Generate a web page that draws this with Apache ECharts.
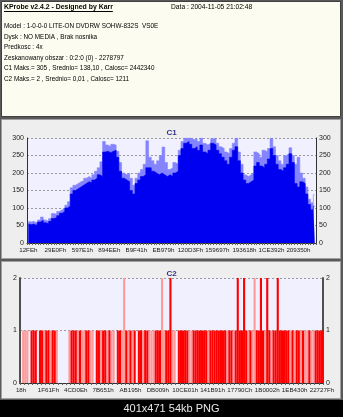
<!DOCTYPE html>
<html><head><meta charset="utf-8">
<script src="https://cdn.jsdelivr.net/npm/echarts@6/dist/echarts.min.js"></script>
<style>html,body{margin:0;padding:0;background:#000;}#c{width:343px;height:417px;}</style>
</head><body><div id="c"></div>
<script>
const headerTitle = 'KProbe v2.4.2 - Designed by Karr';
const headerDate = 'Data : 2004-11-05 21:02:48';
const infoLines = [
  'Model : 1-0-0-0 LITE-ON DVDRW SOHW-832S  VS0E',
  'Dysk : NO MEDIA , Brak nosnika',
  'Predkosc : 4x',
  'Zeskanowany obszar : 0:2:0 (0) - 2278797',
  'C1 Maks.= 305 , Srednio= 138,10 , Calosc= 2442340',
  'C2 Maks.= 2 , Srednio= 0,01 , Calosc= 1211'
];
const caption = '401x471 54kb PNG';
const c1Ticks = ['12FEh','29E0Fh','597E1h','894EEh','B9F41h','EB979h','120D3Fh','159697h','193618h','1CE392h','209350h'];
const c2Ticks = ['18h','1F61Fh','4CD0Eh','7B651h','AB195h','DB009h','10CE01h','141B91h','17790Ch','1B0002h','1EB430h','22727Fh'];
// C1 errors per sample: highest spikes and bulk level
const c1Peak = [62,60,62,58,66,74,66,62,70,84, 82,90,95,98,108,118,158,165,170,175, 178,185,190,185,195,205,215,232,290,280,
  275,282,280,262,230,200,195,200,185,165, 185,200,210,225,292,245,235,225,235,250, 274,230,210,215,230,225,265,290,300,300,
  300,295,298,290,300,285,280,285,298,300, 285,275,270,260,255,270,285,300,260,225, 195,190,195,200,260,255,245,265,260,270,
  300,275,250,235,225,250,255,272,250,225, 245,200,185,160,125,115,138];
const c1Body = [55,52,54,50,60,65,58,55,62,70, 72,78,85,90,100,105,140,150,155,160, 165,170,175,172,180,185,195,190,260,262,
  258,262,265,245,205,185,180,175,150,140, 170,180,190,195,215,215,205,200,195,200, 195,190,195,190,200,205,250,270,285,290,
  282,270,275,265,280,260,255,265,285,280, 265,255,245,235,225,245,265,275,235,200, 180,170,175,180,220,230,220,215,225,240,
  270,250,225,210,205,215,225,255,230,170, 160,175,170,140,110,95,105];
// C2 errors per sample (solid and faint marks)
const c2Strong = [0,0,0,0,0,1,1,1,0,1, 1,0,1,1,0,1,1,0,0,0, 0,0,0,0,1,1,1,0,1,0, 0,1,1,0,0,0,1,1,0,1,
  1,0,1,0,0,0,1,1,0,0, 1,0,1,0,1,0,1,1,0,1, 1,0,0,0,1,1,1,0,0,1, 1,2,0,0,0,1,1,1,1,1,
  0,0,1,1,1,1,1,1,1,0, 1,1,1,1,1,1,1,1,0,1, 1,0,1,2,1,1,2,1,0,1, 0,0,1,1,2,1,0,2,1,0,
  1,1,2,1,1,1,1,1,0,1, 0,1,1,0,1,0,0,1,0,0, 1,1,1,1];
const c2Faint = [0,1,1,1,0,0,0,0,0,0, 0,1,0,0,1,0,0,1,0,0, 0,0,0,1,0,0,0,1,0,1, 1,0,0,1,1,0,0,0,1,0,
  0,1,0,1,1,0,0,0,1,2, 0,1,0,1,0,0,0,0,1,0, 0,1,1,1,0,0,0,2,1,0, 0,0,1,1,0,0,0,0,0,0,
  1,1,0,0,0,0,0,0,0,1, 0,0,0,0,0,0,0,0,1,0, 0,1,0,0,0,0,0,0,1,0, 1,2,0,0,0,0,1,0,0,1,
  0,0,0,0,0,0,0,0,1,0, 1,0,0,1,0,1,1,0,1,1, 0,0,0,0];

const FONT = 'Liberation Sans';
const c1Cats = c1Body.map((_, i) => i);
const c2Cats = c2Strong.map((_, i) => i);
const c1Step = (c1Cats.length - 1 - ((c1Cats.length - 1) % (c1Ticks.length - 1))) / (c1Ticks.length - 1);
const c2Step = (c2Cats.length - 1) / (c2Ticks.length - 1);

const ctx = document.createElement('canvas').getContext('2d');
ctx.font = 'bold 7.5px "' + FONT + '"';
const titleScale = 0.92;
const titleW = ctx.measureText(headerTitle).width * titleScale;

const graphic = [
  {type:'rect', shape:{x:0,y:0,width:343,height:400}, style:{fill:'#5a5a5a'}, z:-20},
  {type:'rect', shape:{x:1.5,y:1.5,width:339,height:115}, style:{fill:'#fcfcf0', stroke:'#404040', lineWidth:1}, z:-19},
  {type:'rect', shape:{x:1.5,y:119.5,width:339,height:139}, style:{fill:'#eeeeee', stroke:'#a0a0a0', lineWidth:1}, z:-19},
  {type:'rect', shape:{x:1.5,y:261.5,width:339,height:137}, style:{fill:'#eeeeee', stroke:'#a0a0a0', lineWidth:1}, z:-19},
  {type:'text', x:4, y:3, scaleX:titleScale, z:50, style:{text:headerTitle, font:'bold 7.5px "' + FONT + '"', fill:'#000'}},
  {type:'line', shape:{x1:4,y1:11.5,x2:4+titleW,y2:11.5}, style:{stroke:'#000', lineWidth:1}, z:50},
  {type:'text', x:171, y:3, scaleX:0.89, z:50, style:{text:headerDate, font:'7.5px "' + FONT + '"', fill:'#000'}},
  {type:'text', x:171.5, y:403, z:50, style:{text:caption, font:'11px "' + FONT + '"', fill:'#e8e8e8', textAlign:'center'}}
];
infoLines.forEach((t, i) => {
  graphic.push({type:'text', x:4, y:22 + i * 10.6, scaleX:0.85, z:50, style:{text:t, font:'7.5px "' + FONT + '"', fill:'#000'}});
});

const yLab = {fontFamily:FONT, fontSize:7, color:'#222', margin:3};
const xLab = {fontFamily:FONT, fontSize:6.2, color:'#222', margin:4, hideOverlap:false};

function stepArea(name, data, color, z) {
  return {name:name, type:'line', xAxisIndex:0, yAxisIndex:0, data:data, step:'middle',
    symbol:'none', lineStyle:{width:0.6, color:color}, areaStyle:{color:color, opacity:1}, z:z};
}

const option = {
  animation:false,
  backgroundColor:'transparent',
  graphic: graphic,
  title:[
    {text:'C1', left:'center', top:124, textStyle:{fontFamily:FONT, fontSize:8, fontWeight:'bold', color:'#333388'}},
    {text:'C2', left:'center', top:265, textStyle:{fontFamily:FONT, fontSize:8, fontWeight:'bold', color:'#333388'}}
  ],
  grid:[
    {left:27, top:138, width:289, height:105, show:true, backgroundColor:'#f0f0ff', borderWidth:0},
    {left:20, top:278, width:303, height:105, show:true, backgroundColor:'#f0f0ff', borderWidth:0}
  ],
  xAxis:[
    {type:'category', gridIndex:0, data:c1Cats,
     axisLine:{show:true, lineStyle:{color:'#303030', width:1}},
     axisTick:{show:true, interval:0, length:2, lineStyle:{color:'#606060'}},
     axisLabel:Object.assign({interval:c1Step - 1, formatter:(v, i) => c1Ticks[Math.round(i / c1Step)] || ''}, xLab)},
    {type:'category', gridIndex:1, data:c2Cats,
     axisLine:{show:true, lineStyle:{color:'#303030', width:1}},
     axisTick:{show:true, interval:1, length:2, lineStyle:{color:'#606060'}},
     axisLabel:Object.assign({interval:c2Step - 1, formatter:(v, i) => c2Ticks[Math.round(i / c2Step)] || ''}, xLab)}
  ],
  yAxis:[
    {type:'value', gridIndex:0, min:0, max:300, interval:50, position:'left',
     axisLine:{show:true, lineStyle:{color:'#303030'}}, axisTick:{show:false},
     splitLine:{show:true, lineStyle:{color:'#9a9a9a', type:[2,2]}}, axisLabel:yLab},
    {type:'value', gridIndex:0, min:0, max:300, interval:50, position:'right',
     axisLine:{show:true, lineStyle:{color:'#303030'}}, axisTick:{show:false},
     splitLine:{show:false}, axisLabel:yLab},
    {type:'value', gridIndex:1, min:0, max:2, interval:1, position:'left',
     axisLine:{show:true, lineStyle:{color:'#505050', width:2}}, axisTick:{show:false},
     splitLine:{show:true, lineStyle:{color:'#9a9a9a', type:[2,2]}}, axisLabel:yLab},
    {type:'value', gridIndex:1, min:0, max:2, interval:1, position:'right',
     axisLine:{show:true, lineStyle:{color:'#505050', width:2}}, axisTick:{show:false},
     splitLine:{show:false}, axisLabel:yLab}
  ],
  series:[
    stepArea('C1 peak', c1Peak, '#8484ff', 2),
    stepArea('C1', c1Body, '#0000f0', 3),
    {name:'C2 faint', type:'bar', xAxisIndex:1, yAxisIndex:2, data:c2Faint, barCategoryGap:'0%', barGap:'-100%',
     itemStyle:{color:'#ff9a9a'}, z:2},
    {name:'C2', type:'bar', xAxisIndex:1, yAxisIndex:2, data:c2Strong, barCategoryGap:'0%', barGap:'-100%',
     itemStyle:{color:'#ff0000'}, z:3}
  ]
};
const chart = echarts.init(document.getElementById('c'), null, {renderer:'canvas'});
chart.setOption(option);
</script></body></html>
